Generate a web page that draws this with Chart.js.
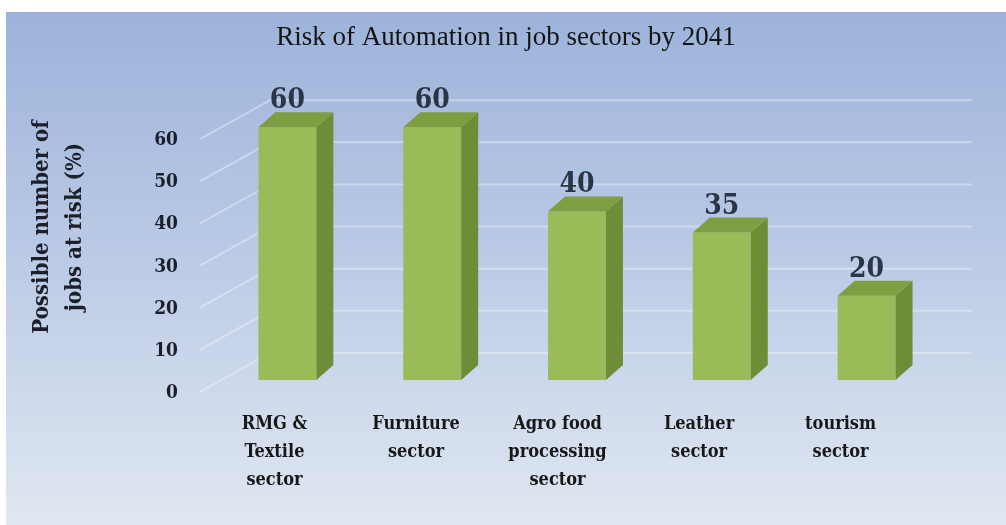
<!DOCTYPE html>
<html>
<head>
<meta charset="utf-8">
<script src="https://cdn.jsdelivr.net/npm/chart.js@4.4.1/dist/chart.umd.min.js"></script>
<style>
  html, body { margin: 0; padding: 0; background: #fff; }
  canvas { display: block; }
</style>
</head>
<body>
<canvas id="riskChart" width="1006" height="525"></canvas>
<script>
// chart data
const sectors = [
  ["RMG &", "Textile", "sector"],
  ["Furniture", "sector"],
  ["Agro food", "processing", "sector"],
  ["Leather", "sector"],
  ["tourism", "sector"]
];
const riskValues = [60, 60, 40, 35, 20];
const yTicks = [0, 10, 20, 30, 40, 50, 60];
const yTitle = ["Possible number of", "jobs at risk (%)"];
const chartTitle = "Risk of Automation in job sectors by 2041";

// 3d depth of the bars
const depthX = 17;
const depthY = 15;

const serifBold = "'DejaVu Serif Condensed', 'Liberation Serif', serif";

// background, back wall grid, title and axis labels
const backdrop = {
  id: 'backdrop',
  beforeDraw(chart) {
    const ctx = chart.ctx;
    const area = chart.chartArea;
    const y = chart.scales.y;
    ctx.save();
    ctx.fillStyle = '#ffffff';
    ctx.fillRect(0, 0, chart.width, chart.height);
    const grad = ctx.createLinearGradient(0, 12, 0, chart.height);
    grad.addColorStop(0, '#9db3db');
    grad.addColorStop(0.45, '#b9c9e5');
    grad.addColorStop(1, '#e0e7f1');
    ctx.fillStyle = grad;
    ctx.fillRect(6, 12, chart.width - 6, chart.height - 12);

    // grid lines on the side and back wall
    ctx.strokeStyle = 'rgba(255,255,255,0.35)';
    ctx.lineWidth = 2;
    yTicks.forEach(v => {
      const py = y.getPixelForValue(v);
      ctx.beginPath();
      ctx.moveTo(area.left - 15, py + 12);
      ctx.lineTo(area.left + 55, py - 27);
      ctx.lineTo(area.right + 33, py - 27);
      ctx.stroke();
    });
    ctx.restore();
  },
  afterDraw(chart) {
    const ctx = chart.ctx;
    const x = chart.scales.x;
    const y = chart.scales.y;
    ctx.save();

    // title
    ctx.fillStyle = '#141414';
    ctx.font = "27px 'Liberation Serif', serif";
    ctx.textAlign = 'center';
    ctx.textBaseline = 'middle';
    ctx.fillText(chartTitle, 506, 38);

    // y tick labels
    ctx.fillStyle = '#1c1f2a';
    ctx.font = "bold 19px " + serifBold;
    ctx.textAlign = 'right';
    yTicks.forEach(v => {
      ctx.fillText(String(v), 178, y.getPixelForValue(v) + 13);
    });

    // y axis title
    ctx.save();
    ctx.translate(59, 227);
    ctx.rotate(-Math.PI / 2);
    ctx.textAlign = 'center';
    ctx.font = "bold 22px " + serifBold;
    ctx.fillText(yTitle[0], 0, -17);
    ctx.fillText(yTitle[1], 0, 16);
    ctx.restore();

    // category labels, slightly pulled in by the perspective
    ctx.font = "bold 18px " + serifBold;
    ctx.textAlign = 'center';
    ctx.fillStyle = '#181818';
    sectors.forEach((lines, i) => {
      const px = -6.5 + 0.9775 * x.getPixelForValue(i);
      lines.forEach((line, j) => {
        ctx.fillText(line, px, 424 + j * 28);
      });
    });
    ctx.restore();
  }
};

// side and top faces + value labels
const bars3d = {
  id: 'bars3d',
  afterDatasetsDraw(chart) {
    const ctx = chart.ctx;
    const meta = chart.getDatasetMeta(0);
    ctx.save();
    meta.data.forEach((bar, i) => {
      const p = bar.getProps(['x', 'y', 'base', 'width'], true);
      const left = p.x - p.width / 2;
      const right = p.x + p.width / 2;

      // side face
      ctx.fillStyle = '#6f8c37';
      ctx.beginPath();
      ctx.moveTo(right, p.y);
      ctx.lineTo(right + depthX, p.y - depthY);
      ctx.lineTo(right + depthX, p.base - depthY);
      ctx.lineTo(right, p.base);
      ctx.closePath();
      ctx.fill();

      // top face
      ctx.fillStyle = '#7f9e42';
      ctx.beginPath();
      ctx.moveTo(left, p.y);
      ctx.lineTo(left + depthX, p.y - depthY);
      ctx.lineTo(right + depthX, p.y - depthY);
      ctx.lineTo(right, p.y);
      ctx.closePath();
      ctx.fill();

      // value label
      ctx.fillStyle = '#2c3546';
      ctx.font = "bold 28px " + serifBold;
      ctx.textAlign = 'center';
      ctx.textBaseline = 'alphabetic';
      ctx.fillText(String(riskValues[i]), p.x, p.y - depthY - 4);
    });
    ctx.restore();
  }
};

const ctx = document.getElementById('riskChart').getContext('2d');
const riskChart = new Chart(ctx, {
  type: 'bar',
  data: {
    labels: sectors,
    datasets: [{
      label: 'Jobs at risk (%)',
      data: riskValues,
      backgroundColor: '#9bbb59',
      borderWidth: 0,
      barPercentage: 0.4,
      categoryPercentage: 1
    }]
  },
  options: {
    responsive: false,
    animation: false,
    devicePixelRatio: 1,
    layout: {
      padding: { top: 85, left: 215, right: 67, bottom: 145 }
    },
    plugins: {
      legend: { display: false },
      tooltip: { enabled: false },
      title: { display: false }
    },
    scales: {
      x: { display: false },
      y: { display: false, min: 0, max: 70 }
    }
  },
  plugins: [backdrop, bars3d]
});
</script>
</body>
</html>
